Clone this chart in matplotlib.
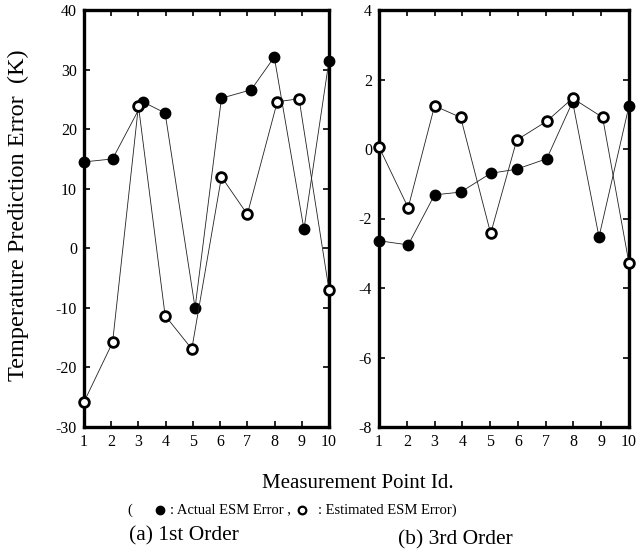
import matplotlib
matplotlib.use("Agg")
import matplotlib.pyplot as plt
from matplotlib.lines import Line2D

plt.rcParams['font.family'] = ['Liberation Serif', 'DejaVu Serif']
plt.rcParams['axes.unicode_minus'] = False

# ---- data (1st order) ----
x1_actual = [1.0, 2.05, 3.16, 3.98, 5.08, 6.05, 7.14, 7.99, 9.08, 10.0]
y1_actual = [14.5, 15.0, 24.6, 22.7, -10.0, 25.2, 26.6, 32.1, 3.2, 31.5]
x1_est = [1.0, 2.05, 3.0, 3.98, 4.96, 6.05, 7.0, 8.1, 8.9, 10.0]
y1_est = [-25.8, -15.8, 23.9, -11.3, -16.9, 12.0, 5.7, 24.6, 25.1, -7.0]

# ---- data (3rd order) ----
x3_actual = [1.0, 2.05, 3.0, 3.94, 5.02, 5.96, 7.04, 7.97, 8.92, 10.0]
y3_actual = [-2.64, -2.76, -1.32, -1.24, -0.70, -0.58, -0.28, 1.36, -2.53, 1.24]
x3_est = [1.0, 2.05, 3.0, 3.94, 5.02, 5.96, 7.04, 7.97, 9.05, 10.0]
y3_est = [0.06, -1.69, 1.24, 0.91, -2.43, 0.26, 0.80, 1.46, 0.91, -3.29]

x_ticks = list(range(1, 11))
y1_ticks = [-30, -20, -10, 0, 10, 20, 30, 40]
y3_ticks = [-8, -6, -4, -2, 0, 2, 4]

fig = plt.figure(figsize=(6.37, 5.52), dpi=100)
W, H = 637, 552

def make_ax(l, r, t, b):
    return fig.add_axes([l / W, 1 - b / H, (r - l) / W, (b - t) / H])

ax1 = make_ax(84, 329, 10, 427)
ax2 = make_ax(379, 629, 10, 427)

def style(ax, yt, ylim):
    ax.set_xlim(1, 10)
    ax.set_ylim(*ylim)
    ax.set_xticks(x_ticks)
    ax.set_yticks(yt)
    ax.tick_params(direction='in', length=4, width=1.2, top=True, right=True,
                   labelsize=11.5, pad=5, colors='black')
    for s in ax.spines.values():
        s.set_linewidth(2.4)
        s.set_color('black')

def plot_series(ax, xa, ya, xe, ye):
    ax.plot(xa, ya, color='#222222', lw=0.6, marker='o', ms=7.5,
            mfc='black', mec='black', clip_on=False, zorder=3)
    ax.plot(xe, ye, color='#222222', lw=0.6, marker='o', ms=7,
            mfc='white', mec='black', mew=2.0, clip_on=False, zorder=4)

plot_series(ax1, x1_actual, y1_actual, x1_est, y1_est)
plot_series(ax2, x3_actual, y3_actual, x3_est, y3_est)
style(ax1, y1_ticks, (-30, 40))
style(ax2, y3_ticks, (-8, 4))

fig.text(18 / W, 1 - 215 / H, 'Temperature Prediction Error  (K)', rotation=90,
         ha='center', va='center', fontsize=17.5)
fig.text(358 / W, 1 - 483 / H, 'Measurement Point Id.', ha='center', va='center', fontsize=15)

# legend line
ly = 1 - 510 / H
fs = 10.5
fig.text(127 / W, ly, '(', ha='left', va='center', fontsize=fs)
fig.add_artist(Line2D([160 / W], [ly], marker='o', ms=6, mfc='black', mec='black',
                      transform=fig.transFigure))
fig.text(170 / W, ly, ': Actual ESM Error ,', ha='left', va='center', fontsize=fs)
fig.add_artist(Line2D([302 / W], [ly], marker='o', ms=5.5, mfc='white', mec='black', mew=1.6,
                      transform=fig.transFigure))
fig.text(318 / W, ly, ': Estimated ESM Error)', ha='left', va='center', fontsize=fs)

fig.text(184 / W, 1 - 536 / H, '(a) 1st Order', ha='center', va='center', fontsize=15.5)
fig.text(455 / W, 1 - 540 / H, '(b) 3rd Order', ha='center', va='center', fontsize=15.5)

fig.savefig('out.png', dpi=100)
